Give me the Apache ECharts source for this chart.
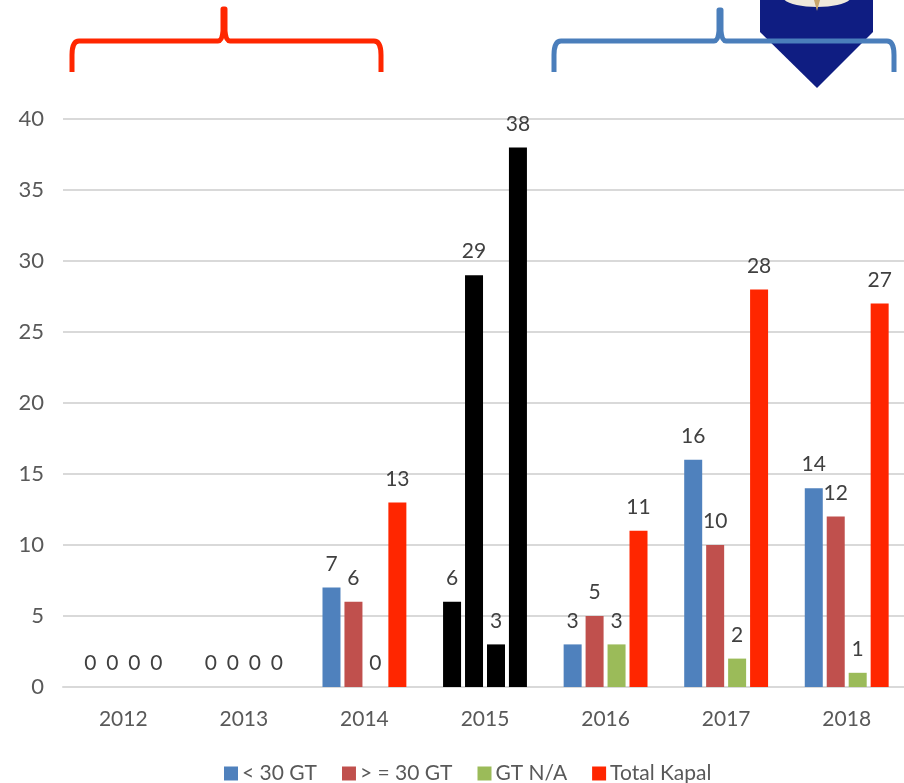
<!DOCTYPE html>
<html>
<head>
<meta charset="utf-8">
<style>html,body{margin:0;padding:0;background:#fff}#chart{width:904px;height:783px}</style>
<script src="https://cdn.jsdelivr.net/npm/echarts@6/dist/echarts.min.js"></script>
</head>
<body>
<div id="chart"></div>
<script>
const years = ['2012', '2013', '2014', '2015', '2016', '2017', '2018'];
const under30 = [0, 0, 7, 6, 3, 16, 14];
const over30 = [0, 0, 6, 29, 5, 10, 12];
const unknownGt = [0, 0, 0, 3, 3, 2, 1];
const totalShips = [0, 0, 13, 38, 11, 28, 27];
const seriesNames = ['< 30 GT', '> = 30 GT', 'GT N/A', 'Total Kapal'];
const seriesColors = ['#4f81bd', '#c0504d', '#9bbb59', '#ff2600'];
const highlightYear = '2015';
const highlightColor = '#000000';
const fontName = 'Lato, "Open Sans", sans-serif';

// Curly bracket spanning a group of years, opening downward
echarts.graphic.registerShape('brace', echarts.graphic.extendShape({
  shape: { x0: 0, x1: 0, tipX: 0, tipY: 0, y: 41, end: 72 },
  buildPath(ctx, s) {
    ctx.moveTo(s.x0, s.end);
    ctx.lineTo(s.x0, s.y + 14);
    ctx.quadraticCurveTo(s.x0, s.y, s.x0 + 7, s.y);
    ctx.lineTo(s.tipX - 6, s.y);
    ctx.quadraticCurveTo(s.tipX - 2, s.y, s.tipX - 1, s.y - 10);
    ctx.lineTo(s.tipX - 1, s.tipY);
    ctx.lineTo(s.tipX + 1, s.tipY);
    ctx.lineTo(s.tipX + 1, s.y - 10);
    ctx.quadraticCurveTo(s.tipX + 2, s.y, s.tipX + 6, s.y);
    ctx.lineTo(s.x1 - 7, s.y);
    ctx.quadraticCurveTo(s.x1, s.y, s.x1, s.y + 14);
    ctx.lineTo(s.x1, s.end);
  }
}));

const chart = echarts.init(document.getElementById('chart'));

function barSeries(name, values, color) {
  return {
    name, type: 'bar', barWidth: 18, barGap: '22%',
    itemStyle: { color },
    label: { show: true, position: 'top', distance: 13, color: '#404040', fontSize: 21, fontFamily: fontName },
    data: values.map((v, i) => years[i] === highlightYear
      ? { value: v, itemStyle: { color: highlightColor } }
      : v)
  };
}

function brace(x0, x1, tipX, tipY, color, width) {
  return {
    type: 'brace', z: 20, shape: { x0, x1, tipX, tipY },
    style: { fill: null, stroke: color, lineWidth: width, lineJoin: 'round' }
  };
}

chart.setOption({
  animation: false,
  backgroundColor: '#ffffff',
  // The plot runs slightly past the right edge of the canvas
  grid: { left: 63, top: 119, width: 844, height: 568, outerBoundsMode: 'none' },
  legend: {
    left: 219, top: 758, itemWidth: 14, itemHeight: 14, itemGap: 25,
    icon: 'rect', data: seriesNames,
    textStyle: { color: '#595959', fontSize: 21, fontFamily: fontName, padding: [0, 0, 0, -1] }
  },
  xAxis: {
    type: 'category', data: years,
    axisTick: { show: false },
    axisLine: { lineStyle: { color: '#d9d9d9', width: 2 } },
    axisLabel: { color: '#595959', fontSize: 21, fontFamily: fontName, margin: 22 }
  },
  yAxis: {
    type: 'value', min: 0, max: 40, interval: 5,
    axisLine: { show: false }, axisTick: { show: false },
    splitLine: { lineStyle: { color: '#d9d9d9', width: 2 } },
    axisLabel: { color: '#595959', fontSize: 22, fontFamily: fontName, margin: 19 }
  },
  series: [
    barSeries(seriesNames[0], under30, seriesColors[0]),
    barSeries(seriesNames[1], over30, seriesColors[1]),
    barSeries(seriesNames[2], unknownGt, seriesColors[2]),
    barSeries(seriesNames[3], totalShips, seriesColors[3])
  ],
  graphic: [
    // Emblem partly hidden at the top edge
    { type: 'polygon', z: 10, shape: { points: [[760, 0], [873, 0], [873, 32], [817, 88], [760, 32]] },
      style: { fill: '#0f1d82' } },
    { type: 'ellipse', z: 11, shape: { cx: 817, cy: -3, rx: 34, ry: 10 }, style: { fill: '#efe9dc' } },
    { type: 'polygon', z: 12, shape: { points: [[814, 0], [820, 0], [817, 11]] }, style: { fill: '#c9a66b' } },
    brace(72, 381, 224, 9, '#ff2600', 5),
    brace(554, 894, 720, 10, '#4a7ebb', 5)
  ]
});
</script>
</body>
</html>
